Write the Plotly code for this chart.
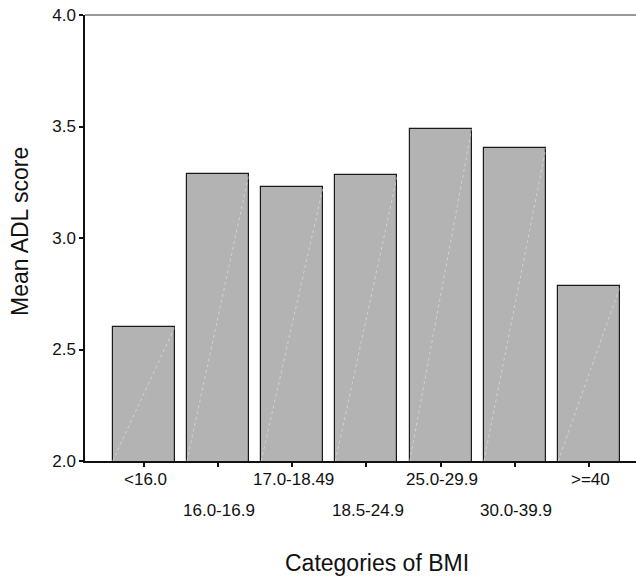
import plotly.graph_objects as go

categories = ["<16.0", "16.0-16.9", "17.0-18.49", "18.5-24.9", "25.0-29.9", "30.0-39.9", ">=40"]
mean_adl = [2.60, 3.287, 3.229, 3.283, 3.489, 3.404, 2.785]
y_ticks = [2.0, 2.5, 3.0, 3.5, 4.0]
y_tick_labels = ["2.0", "2.5", "3.0", "3.5", "4.0"]

xs = list(range(len(categories)))
bar_w = 0.835
font = "Liberation Sans, Arial, sans-serif"

fig = go.Figure()
fig.add_trace(go.Bar(
    x=xs, y=mean_adl, width=bar_w,
    marker=dict(color="#b3b3b3", line=dict(color="#1a1a1a", width=1.2)),
    hoverinfo="skip", showlegend=False,
))

# faint diagonal rendering artefact in each bar
for xi, v in zip(xs, mean_adl):
    fig.add_trace(go.Scatter(
        x=[xi - bar_w / 2, xi + bar_w / 2], y=[y_ticks[0], v],
        mode="lines", line=dict(color="rgba(235,235,235,0.55)", width=1, dash="dot"),
        hoverinfo="skip", showlegend=False,
    ))

annotations = []
# staggered category labels
for i, (xi, lab) in enumerate(zip(xs, categories)):
    annotations.append(dict(
        x=xi + 0.02, y=0, xref="x", yref="paper", yanchor="middle",
        yshift=-18.5 if i % 2 == 0 else -49.5,
        text=lab, showarrow=False,
        font=dict(family=font, size=17, color="#111"),
    ))

annotations.append(dict(
    x=(377 - 85) / (636 - 85), y=0, xref="paper", yref="paper", yanchor="middle",
    yshift=-102,
    text="Categories of BMI", showarrow=False,
    font=dict(family=font, size=23, color="#111"),
))

annotations.append(dict(
    x=0, y=(461 - 232) / (461 - 15), xref="paper", yref="paper",
    xanchor="center", yanchor="middle", xshift=-(85 - 20),
    text="Mean ADL score", textangle=-90, showarrow=False,
    font=dict(family=font, size=23, color="#111"),
))

fig.add_shape(type="line", xref="paper", yref="paper", x0=0, x1=1, y0=1, y1=1,
              line=dict(color="#777", width=1.5))

fig.update_layout(
    width=636, height=578,
    margin=dict(l=85, r=0, t=15, b=117),
    plot_bgcolor="white", paper_bgcolor="white",
    font=dict(family=font, size=17, color="#111"),
    bargap=0,
    xaxis=dict(
        range=[-0.79, 6.63], tickvals=xs, ticktext=[""] * len(xs),
        showline=True, linecolor="#111", linewidth=1.5,
        ticks="outside", ticklen=4, tickwidth=2, tickcolor="#111",
        showgrid=False, zeroline=False,
    ),
    yaxis=dict(
        range=[2, 4], tickvals=y_ticks, ticktext=y_tick_labels,
        showline=True, linecolor="#111", linewidth=1.5,
        ticks="outside", ticklen=4, tickwidth=2, tickcolor="#111",
        showgrid=False, zeroline=False,
        tickfont=dict(family=font, size=17, color="#111"),
    ),
    annotations=annotations,
)

fig.write_html("out.html")
